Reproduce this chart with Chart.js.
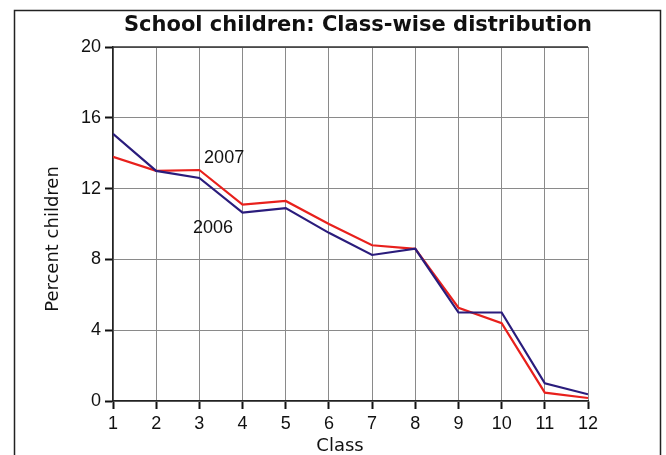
<!DOCTYPE html>
<html>
<head>
<meta charset="utf-8">
<script src="https://cdn.jsdelivr.net/npm/chart.js@4/dist/chart.umd.min.js"></script>
<style>
  html, body { margin: 0; padding: 0; background: #fff; }
  #wrap { width: 666px; height: 455px; }
</style>
</head>
<body>
<div id="wrap"><canvas id="chart"></canvas></div>
<script>
// data
var classes = [1, 2, 3, 4, 5, 6, 7, 8, 9, 10, 11, 12];
var pct2006 = [15.1, 13.0, 12.6, 10.65, 10.9, 9.5, 8.25, 8.6, 5.0, 5.0, 1.0, 0.38];
var pct2007 = [13.8, 13.0, 13.05, 11.1, 11.3, 10.0, 8.8, 8.6, 5.27, 4.4, 0.47, 0.17];
var yTicks = [0, 4, 8, 12, 16, 20];

var titleText = "School children: Class-wise distribution";
// series labels, placed in data units
var seriesLabels = [
  { text: "2007", x: 3.11, y: 13.45 },
  { text: "2006", x: 2.85, y: 9.47 }
];

function pts(vals) {
  return classes.map(function (c, i) { return { x: c, y: vals[i] }; });
}

var decor = {
  id: "decor",
  beforeDraw: function (chart) {
    var c = chart.ctx;
    c.save();
    c.fillStyle = "#fff";
    c.fillRect(0, 0, chart.width, chart.height);
    c.strokeStyle = "#222";
    c.lineWidth = 1.5;
    c.strokeRect(14.5, 10.5, 646, 470);
    c.restore();
  },
  afterDraw: function (chart) {
    var c = chart.ctx, a = chart.chartArea;
    var xs = chart.scales.x, ys = chart.scales.y;
    c.save();
    // darker top edge of the plot frame
    c.strokeStyle = "#333";
    c.lineWidth = 1.5;
    c.beginPath();
    c.moveTo(a.left, a.top);
    c.lineTo(a.right, a.top);
    c.stroke();
    c.fillStyle = "#111";
    // title
    c.font = "bold 21px 'DejaVu Sans'";
    c.textAlign = "center";
    c.textBaseline = "alphabetic";
    c.fillText(titleText, 358, 31);
    // axis titles
    c.font = "18px 'DejaVu Sans'";
    c.fillText("Class", 340, 451);
    c.translate(58, 239);
    c.rotate(-Math.PI / 2);
    c.fillText("Percent children", 0, 0);
    c.restore();
    c.save();
    c.fillStyle = "#111";
    c.font = "18px 'Liberation Sans'";
    c.textAlign = "left";
    c.textBaseline = "alphabetic";
    seriesLabels.forEach(function (l) {
      c.fillText(l.text, xs.getPixelForValue(l.x), ys.getPixelForValue(l.y));
    });
    c.restore();
  }
};

new Chart(document.getElementById("chart").getContext("2d"), {
  type: "line",
  data: {
    datasets: [
      {
        label: "2006",
        data: pts(pct2006),
        borderColor: "#2a1c7c",
        borderWidth: 2.2,
        pointRadius: 0,
        tension: 0
      },
      {
        label: "2007",
        data: pts(pct2007),
        borderColor: "#e8201c",
        borderWidth: 2.2,
        pointRadius: 0,
        tension: 0
      }
    ]
  },
  options: {
    responsive: true,
    maintainAspectRatio: false,
    animation: false,
    events: [],
    layout: { padding: { left: 0, top: 47, right: 78, bottom: 0 } },
    plugins: {
      legend: { display: false },
      title: { display: false },
      tooltip: { enabled: false }
    },
    scales: {
      x: {
        type: "linear",
        min: 1,
        max: 12,
        afterFit: function (s) { s.height = 54; },
        afterBuildTicks: function (s) {
          s.ticks = classes.map(function (v) { return { value: v }; });
        },
        ticks: {
          color: "#111",
          font: { family: "'Liberation Sans'", size: 18 },
          padding: 4,
          maxRotation: 0,
          autoSkip: false
        },
        grid: { color: "#8a8a8a", lineWidth: 1, tickColor: "#111", tickLength: 8, tickWidth: 2 },
        border: { color: "#222", width: 1.5 }
      },
      y: {
        min: 0,
        max: 20,
        afterFit: function (s) { s.width = 113; },
        afterBuildTicks: function (s) {
          s.ticks = yTicks.map(function (v) { return { value: v }; });
        },
        ticks: {
          color: "#111",
          font: { family: "'Liberation Sans'", size: 18 },
          padding: 4
        },
        grid: { color: "#8a8a8a", lineWidth: 1, tickColor: "#111", tickLength: 8, tickWidth: 2 },
        border: { color: "#222", width: 1.5 }
      }
    }
  },
  plugins: [decor]
});
</script>
</body>
</html>
